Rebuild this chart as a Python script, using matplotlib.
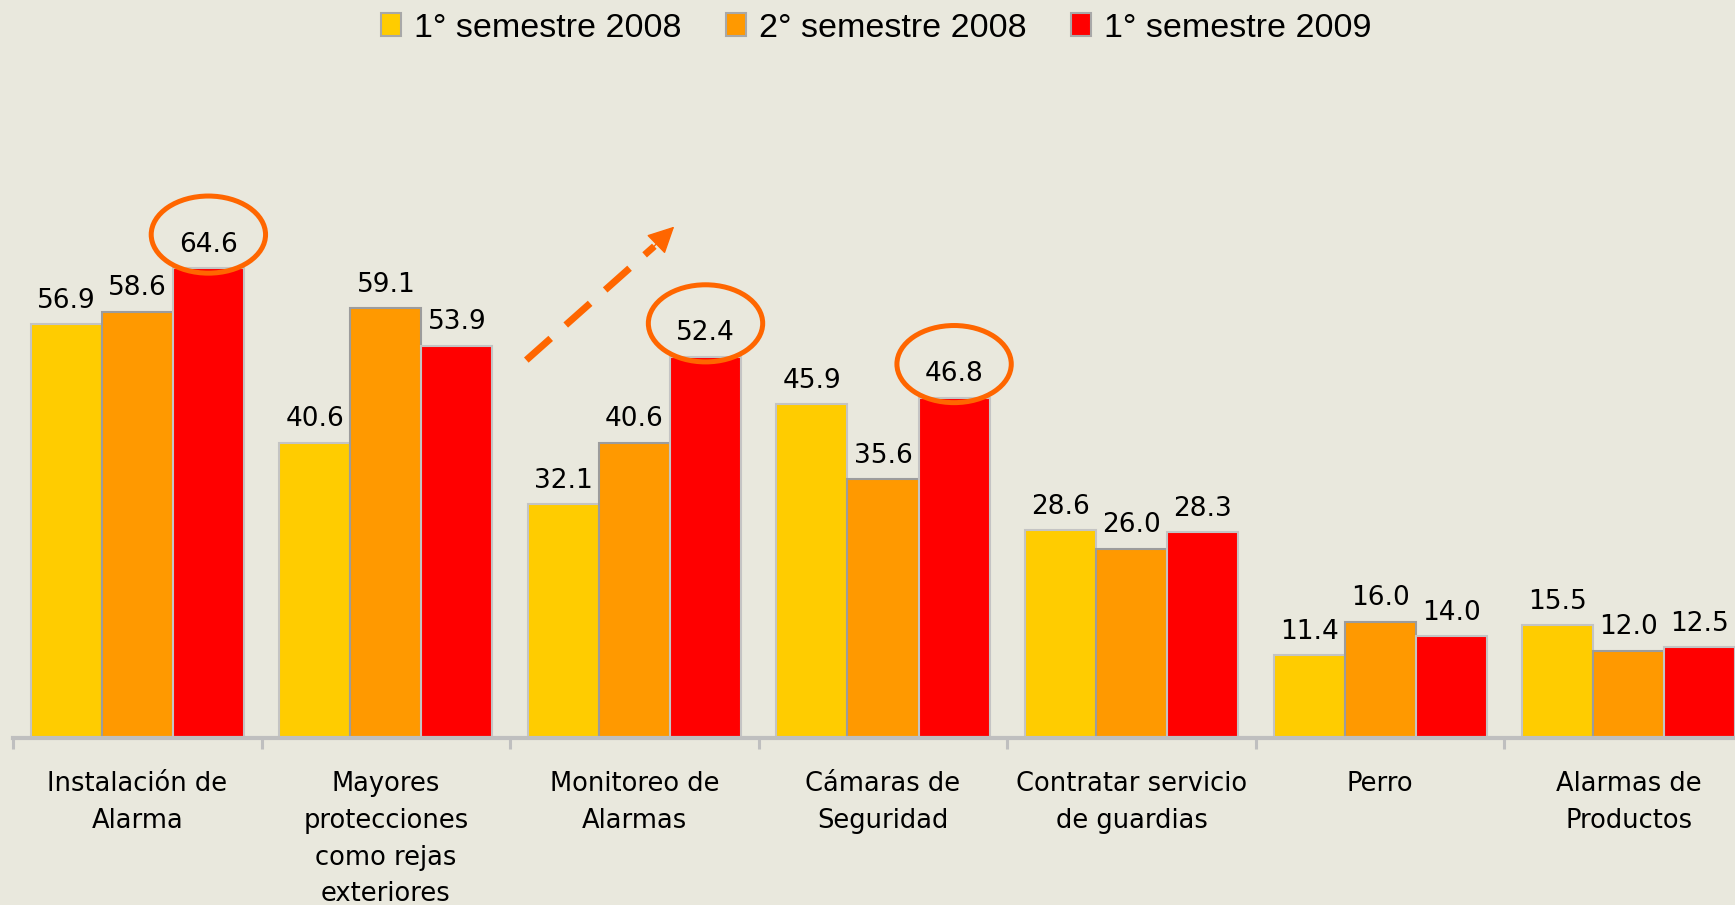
import matplotlib.pyplot as plt
import numpy as np
from matplotlib.patches import Ellipse

categories = [
    "Instalación de\nAlarma",
    "Mayores\nprotecciones\ncomo rejas\nexteriores",
    "Monitoreo de\nAlarmas",
    "Cámaras de\nSeguridad",
    "Contratar servicio\nde guardias",
    "Perro",
    "Alarmas de\nProductos",
]
series = ["1° semestre 2008", "2° semestre 2008", "1° semestre 2009"]
sem1_2008 = [56.9, 40.6, 32.1, 45.9, 28.6, 11.4, 15.5]
sem2_2008 = [58.6, 59.1, 40.6, 35.6, 26.0, 16.0, 12.0]
sem1_2009 = [64.6, 53.9, 52.4, 46.8, 28.3, 14.0, 12.5]
highlighted = [0, 2, 3]  # circled values of 1° semestre 2009

colors = ["#FFCC00", "#FF9900", "#FF0000"]
edges = ["#C4C4C4", "#9C9C9C", "#C4C4C4"]
bg = "#E9E8DD"
accent = "#FF6600"

fig = plt.figure(figsize=(17.35, 9.05), dpi=100, facecolor=bg)
ax = fig.add_axes([13 / 1735, 167 / 905, 1740 / 1735, 678 / 905])
ax.set_facecolor(bg)

x = np.arange(len(categories))
w = 0.286
values = [sem1_2008, sem2_2008, sem1_2009]
for j, vals in enumerate(values):
    pos = x + (j - 1) * w
    ax.bar(pos, vals, w, color=colors[j], edgecolor=edges[j], linewidth=1.5,
           label=series[j], zorder=2)
    for xi, v in zip(pos, vals):
        ax.annotate(f"{v:.1f}", (xi, v), xytext=(0, 7.5), textcoords="offset points",
                    ha="center", va="bottom", fontsize=19, family="DejaVu Sans")

# circles around the highlighted values
for i in highlighted:
    xi = x[i] + w
    ax.add_patch(Ellipse((xi, sem1_2009[i] + 4.6), 0.46, 10.6, fill=False,
                         ec=accent, lw=3.6, zorder=3))

# dashed trend arrow
ax.plot([1.565, 2.08], [51.95, 67.6], color=accent, lw=5,
        linestyle=(0, (4.7, 2.9)), solid_capstyle="butt", dash_capstyle="butt")
ax.annotate("", xy=(2.16, 70.3), xytext=(2.07, 67.3),
            arrowprops=dict(arrowstyle="-|>", color=accent, lw=1,
                            mutation_scale=42, shrinkA=0, shrinkB=0))

ax.set_xlim(-0.5, 6.5)
ax.set_ylim(0, 93.2)
for s in ["top", "right", "left"]:
    ax.spines[s].set_visible(False)
ax.spines["bottom"].set_color("#BFBFBF")
ax.spines["bottom"].set_linewidth(3)
ax.set_yticks([])
ax.set_xticks(np.arange(-0.5, 7, 1))
ax.set_xticklabels([])
ax.tick_params(axis="x", which="major", length=8, width=2.2, color="#BFBFBF")
ax.set_xticks(x, minor=True)
ax.set_xticklabels(categories, minor=True, fontsize=18.5, family="DejaVu Sans",
                   linespacing=1.53)
ax.tick_params(axis="x", which="minor", length=0, pad=24)

fig.legend(loc="upper center", bbox_to_anchor=(0.505, 1.02), ncol=3,
           frameon=False, prop={"family": "Liberation Sans", "size": 24.5},
           handlelength=0.6, handleheight=0.65, handletextpad=0.38,
           columnspacing=1.3)
for h in fig.legends[0].legend_handles:
    h.set_edgecolor("#A8A8A8")

fig.savefig("out.png", facecolor=bg)
